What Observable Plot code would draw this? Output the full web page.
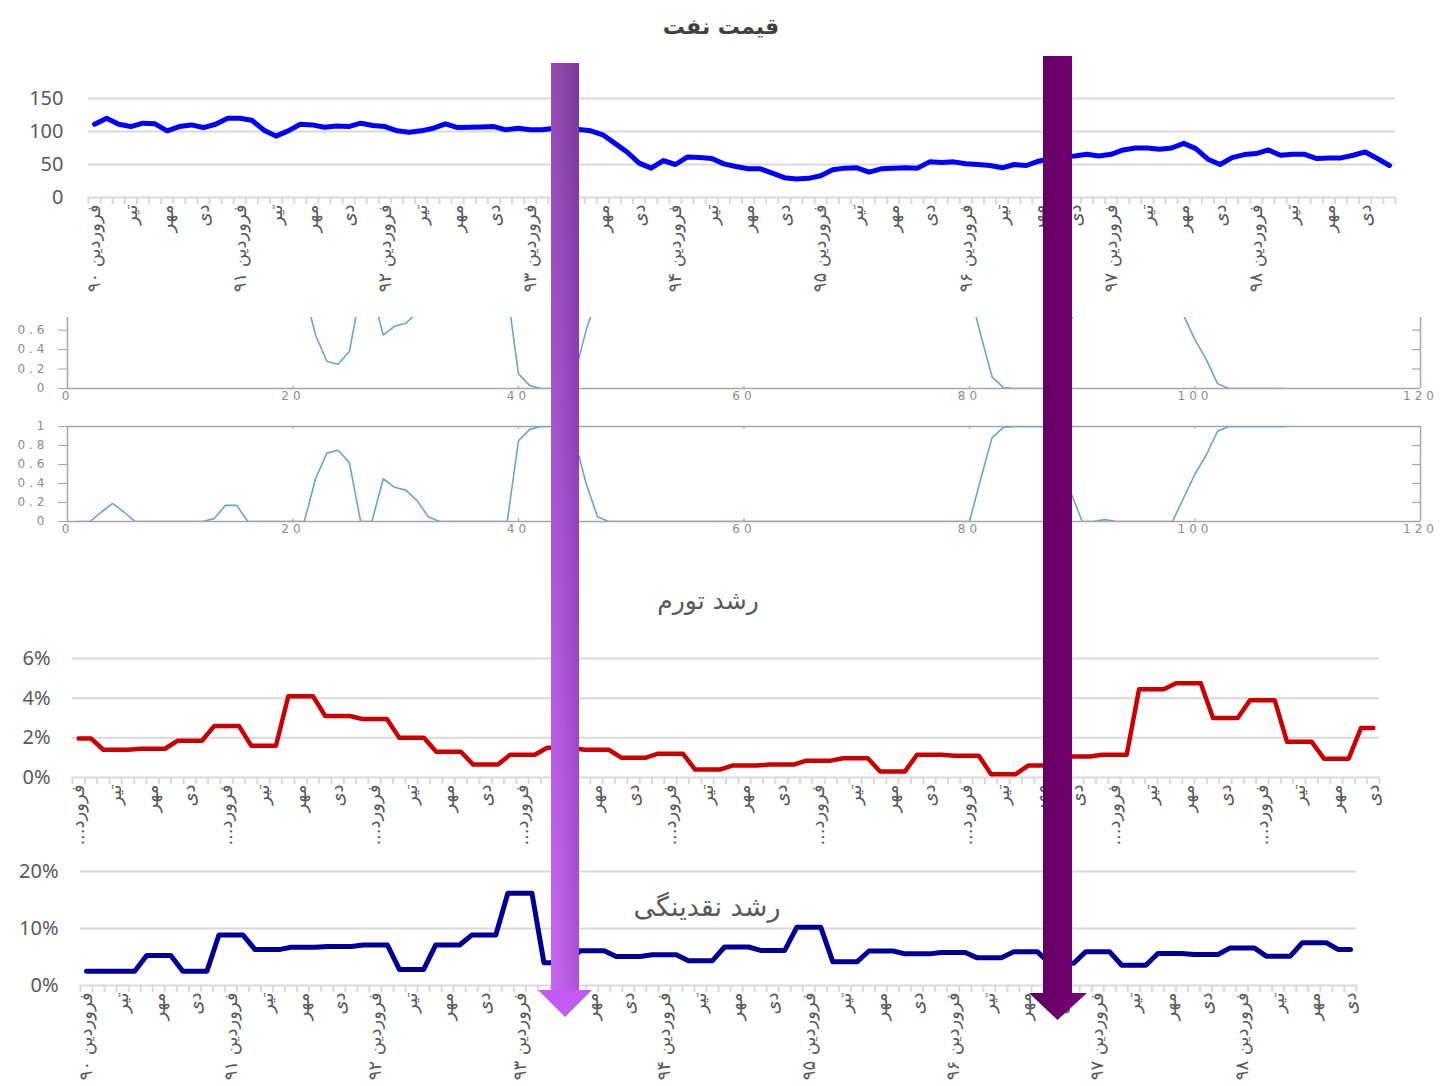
<!DOCTYPE html>
<html><head><meta charset="utf-8">
<script src="https://cdn.jsdelivr.net/npm/d3@7"></script>
<script src="https://cdn.jsdelivr.net/npm/@observablehq/plot@0.6"></script>
<style>
body{margin:0;background:#fff;}
#wrap{position:relative;width:1445px;height:1086px;overflow:hidden;font-family:Lato,"DejaVu Sans",sans-serif;}
.ttl{position:absolute;transform:translate(-50%,-50%);direction:rtl;white-space:nowrap;font-family:"DejaVu Sans",sans-serif;color:#595959;}
.mat text{letter-spacing:4px;font-family:"DejaVu Sans",sans-serif;}
.lbl text{font-family:"DejaVu Sans",sans-serif;}
</style></head><body><div id="wrap"></div><script>
// ---------- data ----------
const quarterMonths = ["فروردین", "تیر", "مهر", "دی"];
const years = ["۹۰","۹۱","۹۲","۹۳","۹۴","۹۵","۹۶","۹۷","۹۸"];
const shortFarvardin = "...فرورد";

const oilPrice = [111,120,111,107.5,112.6,111.6,101,107.5,110,106,
 111,120,120,117,102,93,101,111,110,106.5,
 108.5,107.5,112.6,109,107.5,101,99,101,105,111.6,
 106,106.5,107,107.5,102.5,105,102.5,102.5,105,104,
 103,101,95,82,69,52,44.5,56,50,61.5,
 60.5,59,51,47,43.5,43.5,37,30,28,29,
 33,42,44.5,45,38.5,43.5,44.5,45,44.5,54,
 53,54,51,50,48.5,45,50,48.5,55,59,
 62,63,65.5,63,65.5,72,75,75,73,75,
 82,74,58,50,60.5,65,66.5,72,64,65.5,
 65.5,59,60,60,64,69,59,48.5];

const regime1Prob = [1,1,0.9,0.81,0.9,1,1,1,1,1,
 1,1,0.97,0.83,0.83,1,1,1,1,1,
 1,0.55,0.28,0.25,0.38,1,1,0.55,0.64,0.67,
 0.78,0.95,1,1,1,1,1,1,1,0.15,
 0.03,0,0,0,0.15,0.6,0.95,1,1,1,
 1,1,1,1,1,1,1,1,1,1,
 1,1,1,1,1,1,1,1,1,1,
 1,1,1,1,1,1,1,1,1,1,
 0.55,0.12,0.01,0,0,0,0,0.25,0.7,1,
 1,0.98,1,1,1,1,1,1,0.75,0.5,
 0.3,0.05,0,0,0,0,0,0];

const regime2Prob = [0,0,0.1,0.19,0.1,0,0,0,0,0,
 0,0,0.03,0.17,0.17,0,0,0,0,0,
 0,0.45,0.72,0.75,0.62,0,0,0.45,0.36,0.33,
 0.22,0.05,0,0,0,0,0,0,0,0.85,
 0.97,1,1,1,0.85,0.4,0.05,0,0,0,
 0,0,0,0,0,0,0,0,0,0,
 0,0,0,0,0,0,0,0,0,0,
 0,0,0,0,0,0,0,0,0,0,
 0.45,0.88,0.99,1,1,1,1,0.75,0.3,0,
 0,0.02,0,0,0,0,0,0,0.25,0.5,
 0.7,0.95,1,1,1,1,1,1];

const inflation = [1.97,1.97,
 1.4,1.4,1.4, 1.45,1.45,1.45, 1.85,1.85,1.85, 2.6,2.6,2.6,
 1.6,1.6,1.6, 4.1,4.1,4.1, 3.1,3.1,3.1, 2.95,2.95,2.95,
 2.0,2.0,2.0, 1.3,1.3,1.3, 0.65,0.65,0.65, 1.15,1.15,1.15,
 1.5,1.5,1.5, 1.4,1.4,1.4, 1.0,1.0,1.0, 1.2,1.2,1.2,
 0.4,0.4,0.4, 0.6,0.6,0.6, 0.65,0.65,0.65, 0.85,0.85,0.85,
 0.97,0.97,0.97, 0.3,0.3,0.3, 1.15,1.15,1.15, 1.1,1.1,1.1,
 0.17,0.17,0.17, 0.6,0.6,0.6, 1.06,1.06,1.06, 1.15,1.15,1.15,
 4.45,4.45,4.45, 4.75,4.75,4.75, 3.0,3.0,3.0, 3.9,3.9,3.9,
 1.8,1.8,1.8, 0.95,0.95,0.95, 2.5,2.5];

const liquidity = [2.5,2.5,2.5,2.5,2.5,
 5.25,5.25,5.25, 2.5,2.5,2.5, 8.85,8.85,8.85, 6.3,6.3,6.3,
 6.7,6.7,6.7, 6.85,6.85,6.85, 7.1,7.1,7.1, 2.8,2.8,2.8,
 7.1,7.1,7.1, 8.85,8.85,8.85, 16.2,16.2,16.2, 4.0,4.0,4.0,
 6.1,6.1,6.1, 5.1,5.1,5.1, 5.4,5.4,5.4, 4.35,4.35,4.35,
 6.75,6.75,6.75, 6.15,6.15,6.15, 10.2,10.2,10.2, 4.15,4.15,4.15,
 6.05,6.05,6.05, 5.55,5.55,5.55, 5.8,5.8,5.8, 4.85,4.85,4.85,
 5.9,5.9,5.9, 3.9,3.9,3.9, 5.9,5.9,5.9, 3.55,3.55,3.55,
 5.6,5.6,5.6, 5.45,5.45,5.45, 6.6,6.6,6.6, 5.15,5.15,5.15,
 7.5,7.5,7.5, 6.3,6.3];

const oilTicks = [0,50,100,150];
const inflTicks = [0,2,4,6];
const liqTicks = [0,10,20];
const probXTicks = [0,20,40,60,80,100,120];

// ---------- helpers ----------
const wrap = document.getElementById("wrap");
function monthLabel(i, short) {
  const m = i % 12;
  if (m % 3) return "";
  const q = m / 3;
  if (q === 0) return short ? shortFarvardin : quarterMonths[0] + " " + years[Math.floor(i / 12)];
  return quarterMonths[q];
}
function place(svg, top, cls) {
  svg.style.position = "absolute";
  svg.style.left = "0px";
  svg.style.top = top + "px";
  svg.style.background = "transparent";
  svg.style.overflow = "visible";
  svg.style.maxWidth = "none";
  if (cls) svg.classList.add(cls);
  wrap.appendChild(svg);
}
function title(text, x, y, size, weight, color) {
  const d = document.createElement("div");
  d.className = "ttl";
  d.textContent = text;
  d.style.left = x + "px"; d.style.top = y + "px";
  d.style.fontSize = size + "px"; d.style.fontWeight = weight;
  if (color) d.style.color = color;
  wrap.appendChild(d);
}
const grey = "#595959", gridC = "#d9d9d9";

function monthlyChart({values, n, height, mL, mR, mT, mB, yDomain, yTicks, yFmt, color, sw, short, labelPad, yPad, labelSize}) {
  const data = values.map((v, i) => ({i, v}));
  const bounds = d3.range(-0.5, n, 1);
  const labIdx = d3.range(0, n, 3);
  return Plot.plot({
    width: 1445, height, marginLeft: mL, marginRight: mR, marginTop: mT, marginBottom: mB,
    x: {domain: [-0.5, n - 0.5], label: null},
    y: {domain: yDomain, label: null},
    marks: [
      Plot.gridY(yTicks.filter(d => d > 0), {stroke: gridC, strokeOpacity: 1, strokeWidth: 2}),
      Plot.ruleY([0], {stroke: gridC, strokeWidth: 2}),
      Plot.axisX(bounds, {tickSize: 7, tickFormat: () => "", stroke: gridC, strokeWidth: 2, label: null}),
      Plot.axisX(labIdx, {tickSize: 0, tickPadding: labelPad, tickRotate: -90, textAnchor: "end",
        tickFormat: i => monthLabel(i, short), fontSize: labelSize, fill: grey, label: null, className: "lbl"}),
      Plot.axisY(yTicks, {tickSize: 0, tickPadding: yPad, tickFormat: yFmt, fontSize: 20, fill: grey, label: null}),
      Plot.line(data, {x: "i", y: "v", stroke: color, strokeWidth: sw, strokeLinejoin: "round", strokeLinecap: "round"})
    ]
  });
}

// ---------- titles ----------
title("قیمت نفت", 721, 26, 22, "bold", "#404040");
title("رشد تورم", 708, 600, 25, "normal");

// ---------- oil price ----------
place(monthlyChart({values: oilPrice, n: 108, height: 260, mL: 88, mR: 50, mT: 48, mB: 113,
  yDomain: [0, 150], yTicks: oilTicks, yFmt: d => String(d), color: "#0000ff", sw: 5,
  short: false, labelPad: 7, yPad: 25, labelSize: 18}), 50);

// ---------- regime probability panels ----------
function probPanel(values, top, height, mT, mB, yMax, yTicks, boxed) {
  const data = values.map((v, i) => ({t: i + 1, v}));
  const ax = "#a6a6a6";
  const marks = [
    Plot.ruleX([0, 120], {stroke: ax, strokeWidth: 1.5}),
    Plot.ruleY([0], {stroke: ax, strokeWidth: 1.5}),
    Plot.ruleY(yTicks.filter(d => d > 0 && d < yMax), {x1: 119.3, x2: 120, stroke: ax, strokeWidth: 1.2}),
    Plot.ruleX([20, 40, 60, 80, 100], {y1: 0, y2: yMax * 0.03, stroke: ax, strokeWidth: 1.2}),
    Plot.axisX(probXTicks, {tickSize: 0, tickPadding: 3, fontSize: 12, fill: "#8c8c8c", label: null}),
    Plot.axisY(yTicks, {tickSize: 9, tickPadding: 10, fontSize: 12, fill: "#8c8c8c", stroke: ax, tickFormat: d => String(d), label: null}),
    Plot.line(data, {x: "t", y: "v", stroke: "#6aa6ca", strokeWidth: 1.6, clip: true})
  ];
  if (boxed) {
    marks.unshift(Plot.ruleY([yMax], {stroke: ax, strokeWidth: 1.5}));
    marks.push(Plot.ruleX([20, 40, 60, 80, 100], {y1: yMax, y2: yMax * 0.97, stroke: ax, strokeWidth: 1.2}));
  }
  place(Plot.plot({
    width: 1445, height, marginLeft: 67, marginRight: 25, marginTop: mT, marginBottom: mB,
    x: {domain: [0, 120], label: null}, y: {domain: [0, yMax], label: null},
    marks
  }), top, "mat");
}
probPanel(regime1Prob, 300, 105, 17, 17, 0.73, [0, 0.2, 0.4, 0.6], false);
probPanel(regime2Prob, 410, 130, 16, 19, 1, [0, 0.2, 0.4, 0.6, 0.8, 1], true);

// ---------- inflation ----------
place(monthlyChart({values: inflation, n: 106, height: 220, mL: 72, mR: 66, mT: 18, mB: 83,
  yDomain: [0, 6], yTicks: inflTicks, yFmt: d => d + "%", color: "#cc0000", sw: 4.5,
  short: true, labelPad: 7, yPad: 22, labelSize: 18}), 640);

// ---------- liquidity ----------
place(monthlyChart({values: liquidity, n: 106, height: 236, mL: 80, mR: 89, mT: 21, mB: 101,
  yDomain: [0, 20], yTicks: liqTicks, yFmt: d => d + "%", color: "#000099", sw: 5,
  short: false, labelPad: 7, yPad: 22, labelSize: 18}), 850);
title("رشد نقدینگی", 707, 906, 27, "normal");

// ---------- arrows overlay ----------
const ov = d3.create("svg").attr("width", 1445).attr("height", 1086)
  .style("position", "absolute").style("left", "0px").style("top", "0px").style("pointer-events", "none");
const defs = ov.append("defs");
const g1 = defs.append("linearGradient").attr("id", "a1").attr("gradientUnits", "userSpaceOnUse")
  .attr("x1", 585).attr("y1", 60).attr("x2", 545).attr("y2", 1017);
g1.append("stop").attr("offset", 0).attr("stop-color", "#8a3dac");
g1.append("stop").attr("offset", 0.5).attr("stop-color", "#a54ad6");
g1.append("stop").attr("offset", 1).attr("stop-color", "#c45bf2");
const g2 = defs.append("linearGradient").attr("id", "a2").attr("x1", 0).attr("y1", 0).attr("x2", 1).attr("y2", 0);
g2.append("stop").attr("offset", 0).attr("stop-color", "#5c005b");
g2.append("stop").attr("offset", 1).attr("stop-color", "#7e007b");
const sh = defs.append("linearGradient").attr("id", "sh").attr("x1", 0).attr("y1", 0).attr("x2", 1).attr("y2", 0);
sh.append("stop").attr("offset", 0).attr("stop-color", "#ffffff").attr("stop-opacity", 0.08);
sh.append("stop").attr("offset", 1).attr("stop-color", "#000000").attr("stop-opacity", 0.12);
function arrow(xl, xr, yTop, yHead, hl, hr, yTip, fill, shade) {
  const xm = (xl + xr) / 2;
  const path = `M${xl},${yTop}L${xr},${yTop}L${xr},${yHead}L${hr},${yHead}L${xm},${yTip}L${hl},${yHead}L${xl},${yHead}Z`;
  ov.append("path").attr("d", path).attr("fill", fill);
  if (shade) ov.append("rect").attr("x", xl).attr("y", yTop).attr("width", xr - xl).attr("height", yHead - yTop).attr("fill", "url(#sh)");
}
arrow(551, 579, 63, 990, 538, 592, 1017, "url(#a1)", true);
arrow(1043, 1072, 56, 993, 1029, 1087, 1020, "url(#a2)", false);
wrap.appendChild(ov.node());
</script></body></html>
